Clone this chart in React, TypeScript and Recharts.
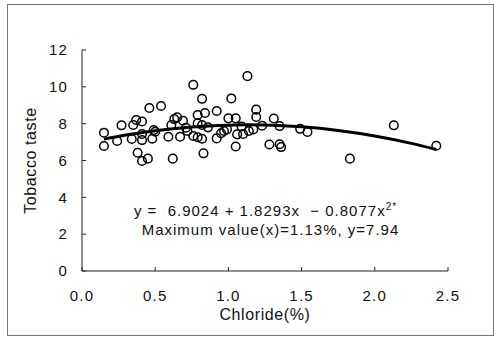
import { ComposedChart, Scatter, Line, XAxis, YAxis } from "recharts";

// Tobacco taste vs chloride content, with the quadratic fit drawn through it.

const chloride = [
  0.15, 0.15, 0.24, 0.27, 0.34, 0.35, 0.37, 0.41, 0.38, 0.41, 0.45, 0.41, 0.41,
  0.46, 0.54, 0.48, 0.49, 0.5, 0.59, 0.62, 0.61, 0.63, 0.65, 0.69, 0.67, 0.71,
  0.72, 0.76, 0.82, 0.79, 0.84, 0.79, 0.82, 0.76, 0.79, 0.82, 0.83, 0.86, 0.92,
  0.92, 0.95, 0.97, 0.99, 1.02, 1.13, 1.0, 1.05, 1.19, 1.19, 1.31, 1.06, 1.05,
  1.1, 1.14, 1.17, 1.23, 1.28, 1.35, 1.35, 1.36, 1.49, 1.54, 1.83, 2.13, 2.42,
  1.09,
];
const taste = [
  7.51, 6.79, 7.06, 7.91, 7.17, 7.93, 8.2, 8.12, 6.42, 5.97, 6.1, 7.11, 7.44,
  8.85, 8.96, 7.18, 7.65, 7.56, 7.29, 6.1, 7.93, 8.25, 8.34, 8.16, 7.29, 7.78,
  7.6, 10.11, 9.35, 8.47, 8.58, 8.02, 7.93, 7.33, 7.26, 7.18, 6.39, 7.8, 8.69,
  7.2, 7.48, 7.6, 7.69, 9.37, 10.58, 8.29, 8.29, 8.76, 8.36, 8.28, 7.42, 6.76,
  7.44, 7.6, 7.69, 7.89, 6.87, 7.87, 6.88, 6.73, 7.72, 7.55, 6.1, 7.91, 6.8,
  7.85,
];

// fitted curve
const fitX = [0.15, 0.3, 0.5, 0.75, 1.0, 1.13, 1.25, 1.5, 1.75, 2.0, 2.25, 2.42];
const fitY = [7.16, 7.38, 7.62, 7.82, 7.92, 7.94, 7.93, 7.83, 7.63, 7.33, 6.93, 6.6];

const xTicks = [0, 0.5, 1, 1.5, 2, 2.5];
const yTicks = [0, 2, 4, 6, 8, 10, 12];

const points = chloride.map((x, i) => ({ x, y: taste[i] }));
const fit = fitX.map((x, i) => ({ x, y: fitY[i] }));

const font = "'Liberation Sans', Arial, sans-serif";
const tickStyle = { fontSize: 15, fill: "#111", fontFamily: font, letterSpacing: 1.2 };
const titleStyle = { fontSize: 16, fill: "#111", fontFamily: font, letterSpacing: 0.6 };

const Ring = (props: any) => (
  <circle cx={props.cx} cy={props.cy} r={4.3} fill="none" stroke="#000" strokeWidth={1.5} />
);

export default function App() {
  return (
    <div style={{ position: "absolute", left: 0, top: 0, width: 499, height: 337, background: "#fff" }}>
      <div
        style={{
          position: "absolute",
          left: 7,
          top: 4,
          width: 485,
          height: 330,
          border: "1px solid #777",
        }}
      />
      <ComposedChart
        width={499}
        height={337}
        margin={{ top: 50, right: 51, left: 0, bottom: 10 }}
        style={{ position: "absolute", left: 0, top: 0 }}
      >
        <XAxis
          type="number"
          dataKey="x"
          domain={[0, 2.5]}
          ticks={xTicks}
          tickFormatter={(v: number) => v.toFixed(1)}
          tick={tickStyle}
          tickSize={-4}
          tickMargin={23}
          stroke="#222"
          height={56}
          label={{
            value: "Chloride(%)",
            position: "insideBottom",
            offset: 7,
            style: titleStyle,
          }}
        />
        <YAxis
          type="number"
          dataKey="y"
          domain={[0, 12]}
          ticks={yTicks}
          tick={tickStyle}
          tickSize={-4}
          tickMargin={18}
          stroke="#222"
          width={82}
          label={{
            value: "Tobacco taste",
            angle: -90,
            position: "insideLeft",
            offset: 30,
            style: { ...titleStyle, textAnchor: "middle" },
          }}
        />
        <Scatter data={points} dataKey="y" shape={Ring} isAnimationActive={false} />
        <Line
          data={fit}
          dataKey="y"
          type="monotone"
          stroke="#000"
          strokeWidth={3}
          dot={false}
          isAnimationActive={false}
        />
      </ComposedChart>
      <div
        style={{
          position: "absolute",
          left: 118,
          top: 201,
          width: 295,
          textAlign: "center",
          fontFamily: font,
          fontSize: 15,
          letterSpacing: 1,
          lineHeight: "19px",
          color: "#111",
        }}
      >
        <div style={{ whiteSpace: "pre" }}>
          {"y =  6.9024 + 1.8293x  \u2212 0.8077x"}
          <sup style={{ fontSize: 10, lineHeight: 0 }}>2</sup>
          <sup style={{ fontSize: 10, lineHeight: 0 }}>*</sup>
        </div>
        <div style={{ paddingLeft: 10 }}>Maximum value(x)=1.13%, y=7.94</div>
      </div>
    </div>
  );
}
